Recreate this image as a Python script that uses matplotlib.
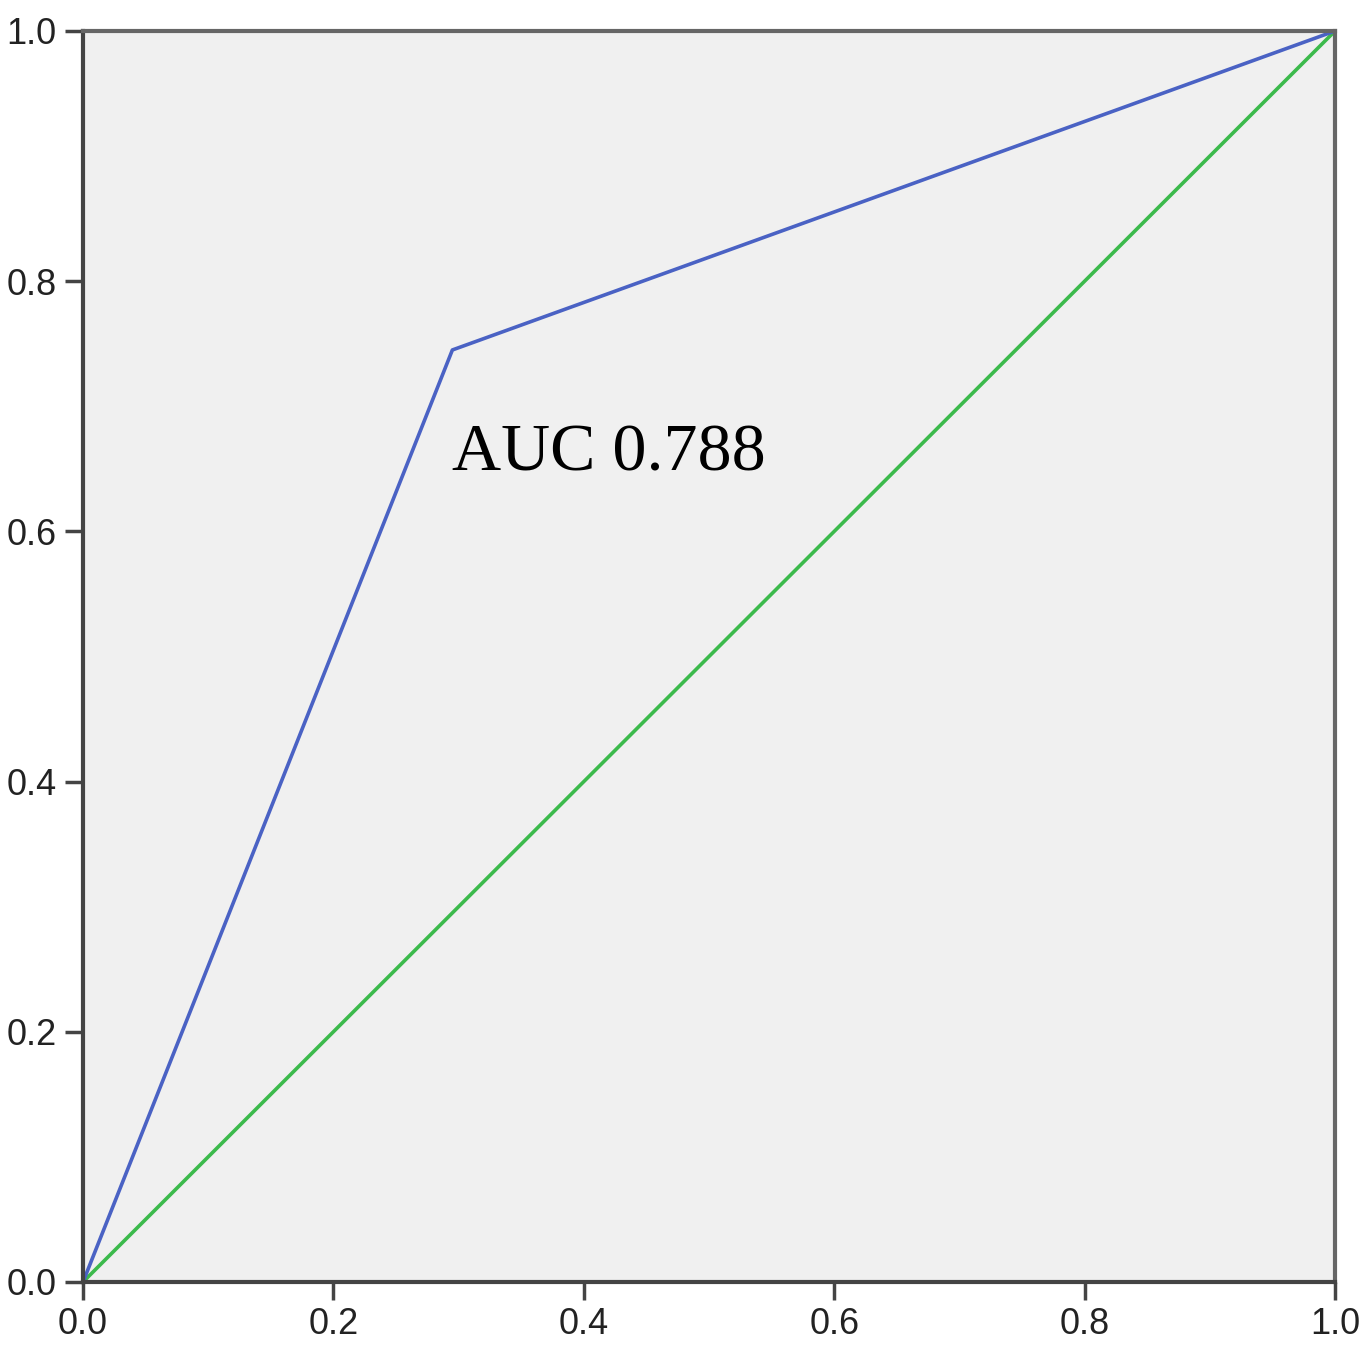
import matplotlib
matplotlib.use("Agg")
import matplotlib.pyplot as plt

# ROC curve
fpr = [0.0, 0.295, 1.0]
tpr = [0.0, 0.745, 1.0]
ref = [0.0, 1.0]
ticks = [0.0, 0.2, 0.4, 0.6, 0.8, 1.0]
tick_labels = ["0.0", "0.2", "0.4", "0.6", "0.8", "1.0"]
label = "AUC 0.788"

fig = plt.figure(figsize=(13.7, 13.58), dpi=100)
ax = fig.add_axes([0.0606, 0.056, 0.9139, 0.9212])
ax.set_facecolor("#f0f0f0")

ax.plot(ref, ref, color="#3cba4c", lw=2.6, solid_capstyle="butt")
ax.plot(fpr, tpr, color="#4a62c4", lw=2.6, solid_capstyle="butt")

ax.set_xlim(0, 1)
ax.set_ylim(0, 1)
ax.set_xticks(ticks)
ax.set_yticks(ticks)
ax.set_xticklabels(tick_labels)
ax.set_yticklabels(tick_labels)
for lab in ax.get_xticklabels() + ax.get_yticklabels():
    lab.set_fontfamily("Liberation Sans")
    lab.set_fontsize(26)
    lab.set_color("#222222")
ax.tick_params(length=13, width=2.5, color="#444444")
ax.tick_params(axis="y", pad=6)
ax.tick_params(axis="x", pad=5)

for s in ax.spines.values():
    s.set_linewidth(3)
    s.set_color("#444444")
ax.spines["top"].set_color("#666666")
ax.spines["right"].set_color("#666666")

ax.text(0.295, 0.649, label, family="Liberation Serif", fontsize=49,
        color="black", ha="left", va="baseline")

fig.savefig("out.png", dpi=100)
